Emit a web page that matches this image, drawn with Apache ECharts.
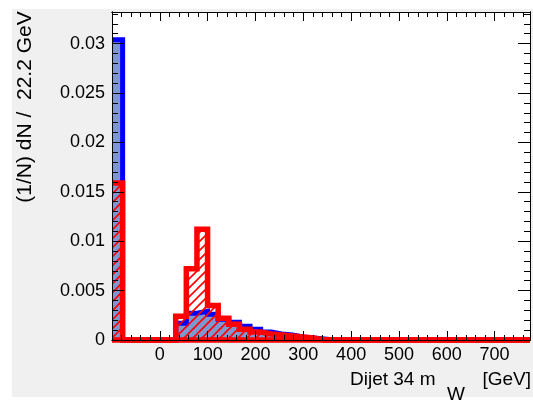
<!DOCTYPE html>
<html>
<head>
<meta charset="utf-8">
<script src="https://cdn.jsdelivr.net/npm/echarts@6/dist/echarts.min.js"></script>
<style>
  html, body { margin: 0; padding: 0; background: #fff; }
  #chart { width: 533px; height: 405px; }
</style>
</head>
<body>
<div id="chart"></div>
<script>
// Binning of the dijet mass histogram (GeV)
const BIN_START = -100;
const BIN_WIDTH = 22.2;
const X_MIN = -100;
const X_MAX = 774;
const Y_MAX = 0.0332;

// Normalised entries per bin, (1/N) dN / 22.2 GeV
const blueValues = [
  0.0304, 0, 0, 0, 0, 0, 0.0017, 0.0027, 0.0029, 0.0026,
  0.0021, 0.0018, 0.0014, 0.0011, 0.0008, 0.0006, 0.0005, 0.0003, 0.0002, 0.0001,
  0, 0, 0, 0, 0, 0, 0, 0, 0, 0,
  0, 0, 0, 0, 0, 0, 0, 0, 0, 0
];
const redValues = [
  0.0159, 0, 0, 0, 0, 0, 0.0024, 0.0072, 0.0112, 0.0035,
  0.0022, 0.0016, 0.0011, 0.0008, 0.0006, 0.0005, 0.0004, 0.0003, 0.0002, 0,
  0, 0, 0, 0, 0, 0, 0, 0, 0, 0,
  0, 0, 0, 0, 0, 0, 0, 0, 0, 0
];

// Axis tick labels
const xTickValues = [0, 100, 200, 300, 400, 500, 600, 700];
const xTickLabels = ['0', '100', '200', '300', '400', '500', '600', '700'];
const yTickValues = [0, 0.005, 0.01, 0.015, 0.02, 0.025, 0.03];
const yTickLabels = ['0', '0.005', '0.01', '0.015', '0.02', '0.025', '0.03'];

const FONT = 'Liberation Sans, Arial, Helvetica, sans-serif';

// Outline of a histogram as a step polyline over the bin edges
function stepPoints(values) {
  const pts = [];
  values.forEach((v, k) => {
    const x0 = BIN_START + k * BIN_WIDTH;
    const x1 = x0 + BIN_WIDTH;
    if (x0 >= X_MAX) return;
    pts.push([Math.max(x0, X_MIN), v], [Math.min(x1, X_MAX), v]);
  });
  return pts;
}

// Diagonal "/" hatching used for the red histogram fill
function hatchPattern(color) {
  const s = 9;
  const c = document.createElement('canvas');
  c.width = s; c.height = s;
  const g = c.getContext('2d');
  g.strokeStyle = color;
  g.lineWidth = 1.6;
  g.beginPath();
  g.moveTo(-1, s + 1); g.lineTo(s + 1, -1);
  g.moveTo(-1, 1); g.lineTo(1, -1);
  g.moveTo(s - 1, s + 1); g.lineTo(s + 1, s - 1);
  g.stroke();
  return c;
}

function labelFor(values, labels, v, tol) {
  for (let i = 0; i < values.length; i++) {
    if (Math.abs(values[i] - v) < tol) return labels[i];
  }
  return '';
}

const frameLine = { show: true, onZero: false, lineStyle: { color: '#000', width: 1 } };

function xAxisDef(position, interval, tickLen, withLabels) {
  return {
    type: 'value', position, min: X_MIN, max: X_MAX, interval, z: 5,
    axisLine: frameLine,
    splitLine: { show: false },
    axisTick: { show: true, inside: true, length: tickLen, lineStyle: { color: '#000', width: 1 } },
    axisLabel: withLabels ? {
      show: true, margin: 6, color: '#000', fontSize: 18, fontFamily: FONT,
      formatter: v => labelFor(xTickValues, xTickLabels, v, 1e-6)
    } : { show: false }
  };
}

function yAxisDef(position, interval, tickLen, withLabels) {
  return {
    type: 'value', position, min: 0, max: Y_MAX, interval, z: 5,
    axisLine: frameLine,
    splitLine: { show: false },
    axisTick: { show: true, inside: true, length: tickLen, lineStyle: { color: '#000', width: 1 } },
    axisLabel: withLabels ? {
      show: true, margin: 7, color: '#000', fontSize: 18, fontFamily: FONT,
      formatter: v => labelFor(yTickValues, yTickLabels, v, 1e-7)
    } : { show: false }
  };
}

const chart = echarts.init(document.getElementById('chart'), null, { renderer: 'canvas' });

chart.setOption({
  animation: false,
  backgroundColor: '#fff',
  grid: {
    left: 112, top: 12, width: 418, height: 328,
    show: true, backgroundColor: '#fff', borderWidth: 0
  },
  xAxis: [
    xAxisDef('bottom', 100, 9, true),
    xAxisDef('bottom', 20, 5, false),
    xAxisDef('top', 100, 9, false),
    xAxisDef('top', 20, 5, false)
  ],
  yAxis: [
    yAxisDef('left', 0.005, 12, true),
    yAxisDef('left', 0.001, 6, false),
    yAxisDef('right', 0.005, 12, false),
    yAxisDef('right', 0.001, 6, false)
  ],
  series: [
    {
      name: 'blue',
      type: 'line',
      xAxisIndex: 0, yAxisIndex: 0,
      data: stepPoints(blueValues),
      showSymbol: false, symbol: 'none',
      clip: false,
      z: 2,
      lineStyle: { color: '#0000ff', width: 5, join: 'miter', cap: 'butt' },
      areaStyle: { color: '#7d97d1', opacity: 1 }
    },
    {
      name: 'red',
      type: 'line',
      xAxisIndex: 0, yAxisIndex: 0,
      data: stepPoints(redValues),
      showSymbol: false, symbol: 'none',
      clip: false,
      z: 3,
      lineStyle: { color: '#ff0000', width: 5.5, join: 'miter', cap: 'butt' },
      areaStyle: { color: { image: hatchPattern('#ff0000'), repeat: 'repeat' }, opacity: 1 },
      markLine: {
        silent: true, symbol: 'none', animation: false,
        label: { show: false },
        lineStyle: { color: '#ff0000', width: 5.5, type: 'solid' },
        data: [[{ coord: [X_MIN, 0] }, { coord: [X_MAX, 0] }]]
      }
    }
  ],
  graphic: [
    {
      type: 'rect', z: -1, silent: true,
      shape: { x: 12, y: 9, width: 521, height: 388 },
      style: { fill: '#f0f0f0' }
    },
    {
      type: 'text', x: 25, y: 107, rotation: Math.PI / 2, z: 10,
      style: {
        text: '(1/N) dN /  22.2 GeV', font: '21px ' + FONT, fill: '#000',
        align: 'center', verticalAlign: 'middle'
      }
    },
    {
      type: 'text', x: 350, y: 380, z: 10,
      style: { text: 'Dijet 34 m', font: '19px ' + FONT, fill: '#000', align: 'left', verticalAlign: 'middle' }
    },
    {
      type: 'text', x: 447, y: 395, z: 10,
      style: { text: 'W', font: '19px ' + FONT, fill: '#000', align: 'left', verticalAlign: 'middle' }
    },
    {
      type: 'text', x: 531, y: 380, z: 10,
      style: { text: '[GeV]', font: '19px ' + FONT, fill: '#000', align: 'right', verticalAlign: 'middle' }
    }
  ]
});
</script>
</body>
</html>
